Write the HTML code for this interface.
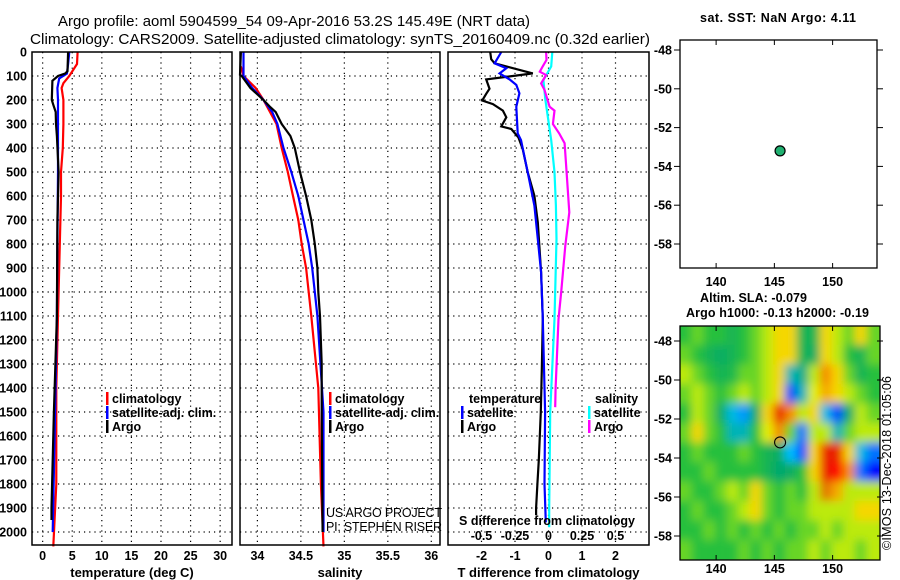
<!DOCTYPE html>
<html><head><meta charset="utf-8"><style>
html,body{margin:0;padding:0;background:#fff;}
svg{display:block;font-family:"Liberation Sans",sans-serif;}
</style></head><body>
<svg id="c" width="900" height="580" viewBox="0 0 900 580">
<defs>
<clipPath id="clipMap2"><rect x="680" y="326" width="200" height="234"/></clipPath>
<filter id="blur" x="-5%" y="-5%" width="110%" height="110%"><feGaussianBlur stdDeviation="4.5"/></filter>
</defs>
<g>
<text x="58" y="26" font-size="14.5" textLength="472" lengthAdjust="spacingAndGlyphs">Argo profile: aoml 5904599_54 09-Apr-2016 53.2S 145.49E (NRT data)</text>
<text x="30" y="44" font-size="14.5" textLength="620" lengthAdjust="spacingAndGlyphs">Climatology: CARS2009. Satellite-adjusted climatology: synTS_20160409.nc (0.32d earlier)</text>
</g>
<g id="panels"></g>
<g id="maps"></g>
</svg>
<script>
// ---------- data ----------
const depthTicks = [0,100,200,300,400,500,600,700,800,900,1000,1100,1200,1300,1400,1500,1600,1700,1800,1900,2000];
const tempTicks = [0,5,10,15,20,25,30];
const salTicks = [34,34.5,35,35.5,36];
const tdiffTicks = [-2,-1,0,1,2];
const sdiffTicks = [-0.5,-0.25,0,0.25,0.5];

const tClimDepth = [0,50,100,130,150,200,300,400,500,600,800,1100,1400,1800,2060];
const tClimVal = [5.9,5.8,4.5,3.5,3.2,3.5,3.5,3.4,3.1,3.1,2.9,2.6,2.3,2.3,1.8];
const tSatDepth = [0,50,90,110,150,200,300,400,500,800,1100,1500,2000];
const tSatVal = [4.5,4.3,4.1,2.8,2.5,2.6,2.6,2.6,2.6,2.5,2.4,2.1,1.7];
const tArgoDepth = [0,80,90,100,120,200,220,250,300,350,500,700,1100,1500,1900,1950];
const tArgoVal = [4.3,4.2,3.8,2.6,1.65,1.55,1.8,2.2,2.25,2.4,2.7,2.5,2.4,1.9,1.5,1.5];

const sClimDepth = [60,100,150,200,300,400,500,600,700,800,900,1000,1100,1400,1800,2060];
const sClimVal = [33.81,33.84,33.98,34.07,34.22,34.28,34.35,34.41,34.47,34.51,34.56,34.59,34.62,34.70,34.73,34.76];
const sSatDepth = [0,100,150,200,250,300,400,500,600,700,800,900,1000,1100,1500,2000];
const sSatVal = [33.84,33.84,33.94,34.07,34.17,34.23,34.30,34.39,34.47,34.53,34.59,34.63,34.66,34.69,34.76,34.76];
const sArgoDepth = [0,95,100,150,200,230,250,300,350,400,500,600,700,800,900,1000,1100,1300,1500,2000];
const sArgoVal = [33.81,33.80,33.82,33.92,34.07,34.15,34.21,34.28,34.38,34.43,34.49,34.56,34.62,34.66,34.69,34.70,34.72,34.74,34.74,34.75];

const dtArgoDepth = [0,30,47,89,114,153,174,202,217,244,272,310,321,356,404,501,599,710,918,1113,1325,1500,1700,1800,1900,1930];
const dtArgoVal = [-1.74,-1.71,-1.61,-0.47,-1.86,-1.76,-1.86,-1.98,-1.66,-1.36,-1.26,-1.41,-1.11,-0.90,-0.77,-0.62,-0.42,-0.32,-0.22,-0.17,-0.20,-0.23,-0.29,-0.33,-0.37,-0.37];
const dtSatDepth = [0,47,68,89,114,137,172,228,339,367,501,640,779,918,1113,1500,1800,1960];
const dtSatVal = [-1.41,-1.61,-1.26,-1.46,-1.16,-0.96,-0.87,-0.96,-0.92,-0.82,-0.62,-0.42,-0.32,-0.22,-0.17,-0.10,-0.12,-0.08];
const dsSatDepth = [0,60,117,200,367,501,640,779,1113,1500,1900,1980];
const dsSatVal = [0.028,0.02,-0.038,-0.023,0.02,0.045,0.055,0.06,0.045,0.013,0.005,0.005];
const dsArgoDepth = [0,33,60,82,96,131,158,228,244,300,339,380,501,668,807,1000,1113,1400,1480];
const dsArgoVal = [-0.018,-0.015,-0.043,-0.065,-0.018,-0.055,-0.03,0.008,0.045,0.033,0.08,0.12,0.135,0.155,0.125,0.095,0.075,0.053,0.05];

const mapLonTicks = [140,145,150];
const mapLatTicks = [-48,-50,-52,-54,-56,-58];
const argoLon = 145.49, argoLat = -53.2;
// SLA grid: rows lat -47.7 .. -58.7, cols lon 137..153
const slaGrid = [
[0,0.5,0,0,-0.5,0,0.5,1,1.5,1.5,-0.5,-0.5,1.5,1,0.5,1.5,0.5],
[0.5,0,-0.5,-0.8,-0.5,0,0.5,1,1.5,1.5,-0.5,-0.8,1.5,1,0,-0.5,0.5],
[1,0.5,0,-0.5,-0.3,0.5,0.5,1,1.5,-1.5,-1.2,1,2,1.5,0.5,-0.5,0],
[0.5,1,0.5,0,0.5,1,0.5,1,1.5,-2.6,-1.5,1.2,1.8,1.5,1,0.5,0],
[0,1,0.5,-0.8,-1.8,-2.2,-0.8,1.5,2.8,2,1,1.5,-1.8,-2.6,-0.8,1,0.5],
[0.5,1.5,0.5,0,-1.5,-1.5,0,1.2,2,0.5,-2.4,1,1,-1.5,0.5,1,1],
[0,0.5,0,0,0,0.5,0,-0.5,-0.8,-2,-2.6,1.5,2.8,2.8,1.5,-1.8,-2.4],
[0,0,0.5,0,0,0,0,-0.5,-1,-0.8,0,1.5,2.8,3.2,2,-2.4,-3.2],
[0.5,0,0,0.5,1,0.5,1.5,0.5,0,0.5,0,1,2.2,1.8,1,1,1],
[0,0.5,0,0,0.5,1,1.5,0.5,0,0.5,0.5,1,1,1,1,1.5,1.5],
[0,0,0.5,0,0.5,0,0.5,0,0.5,0,0.5,0.5,1,0.5,1,1,1],
[0.5,0,0,0,0,0.5,0,0.5,0,0.5,0.5,1,0.5,1,1,0.5,1]
];

// ---------- helpers ----------
const NS='http://www.w3.org/2000/svg';
function mk(tag, attrs, parent){const e=document.createElementNS(NS,tag);for(const k in attrs)e.setAttribute(k,attrs[k]);parent.appendChild(e);return e;}
function txt(parent,x,y,s,size,anchor,weight){const t=mk('text',{x:x,y:y,'font-size':size,'text-anchor':anchor||'start','font-weight':weight||'bold'},parent);t.textContent=s;return t;}
const yD = d => 52 + 0.24*d;
const PY0=52, PY1=545;
const panelsG=document.getElementById('panels');
const mapsG=document.getElementById('maps');

function panel(name,x0,x1,vmin,vmax,ticks,xlabel){
  const g=mk('g',{},panelsG);
  
  
  const sx=v=>x0+(v-vmin)/(vmax-vmin)*(x1-x0);
  depthTicks.forEach(d=>{ if(d>0){ const l=mk('line',{x1:x0,x2:x1,y1:yD(d),y2:yD(d),stroke:'#000','stroke-width':1.2,'stroke-dasharray':'1.2,4'},g);
    
    }});
  ticks.forEach(v=>{ const l=mk('line',{x1:sx(v),x2:sx(v),y1:PY0,y2:PY1,stroke:'#000','stroke-width':1.2,'stroke-dasharray':'1.2,4'},g);
    
    
    const t=txt(g,sx(v),560,String(v),12.5,'middle');
    
    
  });
  const xl=txt(g,(x0+x1)/2,577,xlabel,13,'middle');
  
  
  return {g,sx};
}
function series(p,name,depths,vals,color,sx){
  const pts=depths.map((d,i)=>sx(vals[i]).toFixed(1)+','+yD(d).toFixed(1)).join(' ');
  const l=mk('polyline',{points:pts,fill:'none',stroke:color,'stroke-width':2.2,'stroke-linejoin':'miter'},p.g);
  
  
}
function frame(p,x0,x1){
  const r=mk('rect',{x:x0,y:PY0,width:x1-x0,height:PY1-PY0,fill:'none',stroke:'#000','stroke-width':1.5},p.g);
  
  
}
function legendEntry(g,x,y,color,label){
  const m=mk('rect',{x:x,y:y-11,width:2.5,height:13,fill:color},g);
  
  
  const t=txt(g,x+6,y,label,12.5,'start');
  
  
}

const yax=mk('g',{},panelsG);


depthTicks.forEach(d=>{const t=txt(yax,27,yD(d)+4.5,String(d),12.5,'end');
  
  });

const p1=panel('temperature-panel',32,232,-1.8,32,tempTicks,'temperature (deg C)');
series(p1,'temp-climatology-line',tClimDepth,tClimVal,'#ff0000',p1.sx);
series(p1,'temp-satellite-line',tSatDepth,tSatVal,'#0000ff',p1.sx);
series(p1,'temp-argo-line',tArgoDepth,tArgoVal,'#000000',p1.sx);
frame(p1,32,232);
legendEntry(p1.g,106,403,'#ff0000','climatology');
legendEntry(p1.g,106,417,'#0000ff','satellite-adj. clim.');
legendEntry(p1.g,106,431,'#000000','Argo');

const p2=panel('salinity-panel',240,440,33.8,36.1,salTicks,'salinity');
series(p2,'sal-climatology-line',sClimDepth,sClimVal,'#ff0000',p2.sx);
series(p2,'sal-satellite-line',sSatDepth,sSatVal,'#0000ff',p2.sx);
series(p2,'sal-argo-line',sArgoDepth,sArgoVal,'#000000',p2.sx);
frame(p2,240,440);
legendEntry(p2.g,329,403,'#ff0000','climatology');
legendEntry(p2.g,329,417,'#0000ff','satellite-adj. clim.');
legendEntry(p2.g,329,431,'#000000','Argo');
const c1=txt(p2.g,326,517,'US ARGO PROJECT',12.5,'start','normal'); c1.setAttribute('textLength','116');


const c2=txt(p2.g,326,531,'PI: STEPHEN RISER',12.5,'start','normal'); c2.setAttribute('textLength','116');



const p3=panel('difference-panel',448,649,-3,3,tdiffTicks,'T difference from climatology');
const sxS=v=>p3.sx(v*4);
series(p3,'tdiff-argo-line',dtArgoDepth,dtArgoVal,'#000000',p3.sx);
series(p3,'tdiff-satellite-line',dtSatDepth,dtSatVal,'#0000ff',p3.sx);
series(p3,'sdiff-satellite-line',dsSatDepth,dsSatVal,'#00ffff',sxS);
series(p3,'sdiff-argo-line',dsArgoDepth,dsArgoVal,'#ff00ff',sxS);
frame(p3,448,649);
const lt=txt(p3.g,469,403,'temperature',12.5,'start');  
legendEntry(p3.g,461,417,'#0000ff','satellite');
legendEntry(p3.g,461,431,'#000000','Argo');
const ls=txt(p3.g,595,403,'salinity',12.5,'start');  
legendEntry(p3.g,588,417,'#00ffff','satellite');
legendEntry(p3.g,588,431,'#ff00ff','Argo');
const st=txt(p3.g,459,525,'S difference from climatology',12.5,'start'); st.setAttribute('textLength','176');


sdiffTicks.forEach(v=>{const t=txt(p3.g,sxS(v),540,String(v),12.5,'middle');
  
  });

// ---------- maps ----------
const lonX = lon => 680 + (lon-136.9)*11.65;
function mapAxes(g,top,bot,latY,labelY){
  mapLonTicks.forEach(lon=>{
    mk('line',{x1:lonX(lon),x2:lonX(lon),y1:bot,y2:bot-5,stroke:'#000'},g);
    mk('line',{x1:lonX(lon),x2:lonX(lon),y1:top,y2:top+5,stroke:'#000'},g);
    const t=txt(g,lonX(lon),labelY,String(lon),12.5,'middle');
    
    
  });
  mapLatTicks.forEach(lat=>{
    mk('line',{x1:674,x2:680,y1:latY(lat),y2:latY(lat),stroke:'#000'},g);
    mk('line',{x1:877,x2:883,y1:latY(lat),y2:latY(lat),stroke:'#000'},g);
    const t=txt(g,672,latY(lat)+4.5,String(lat),12.5,'end');
    
    
  });
}
const m1=mk('g',{},mapsG);


const lat1 = lat => 50 + (-48-lat)*19.4;
const m1t=txt(m1,700,22,'sat. SST: NaN Argo: 4.11',12.5,'start'); m1t.setAttribute('textLength','156');


mk('rect',{x:680,y:40,width:197,height:228,fill:'#fff',stroke:'#000','stroke-width':1.3},m1);
mapAxes(m1,40,268,lat1,286);
const dot=mk('circle',{cx:lonX(argoLon),cy:lat1(argoLat),r:5,fill:'#20b070',stroke:'#000','stroke-width':1.2},m1);



const m2=mk('g',{},mapsG);


const lat2 = lat => 341 + (-48-lat)*19.5;
const m2t1=txt(m2,700,302,'Altim. SLA: -0.079',12.5,'start'); m2t1.setAttribute('textLength','107');


const m2t2=txt(m2,686,317,'Argo h1000: -0.13 h2000: -0.19',12.5,'start'); m2t2.setAttribute('textLength','183');


const stops=[[-3,[0,0,255]],[-2,[0,190,255]],[-1,[0,168,110]],[0,[40,192,60]],[0.7,[130,222,30]],[1.3,[245,245,0]],[2,[245,140,0]],[2.5,[200,80,16]],[3,[255,0,0]]];
function cmap(v){
  if(v<=stops[0][0])return 'rgb('+stops[0][1]+')';
  for(let i=1;i<stops.length;i++){ if(v<=stops[i][0]){const a=stops[i-1],b=stops[i];const t=(v-a[0])/(b[0]-a[0]);
    return 'rgb('+a[1].map((c,k)=>Math.round(c+(b[1][k]-c)*t)).join(',')+')';}}
  return 'rgb('+stops[stops.length-1][1]+')';
}
const hmClip=mk('g',{'clip-path':'url(#clipMap2)'},m2);
mk('rect',{x:680,y:326,width:200,height:234,fill:cmap(0.3)},hmClip);
const hm=mk('g',{filter:'url(#blur)'},hmClip);


slaGrid.forEach((row,r)=>row.forEach((v,c)=>{
  const x=lonX(137+c-0.1), y=lat2(-47.2-r);
  const cell=mk('rect',{x:x-(c===0?8:0),y:y-(r===0?8:0),width:11.8+(c===0||c===16?8:0),height:19.7+(r===0||r===11?8:0),fill:cmap(v)},hm);
  
  
}));
mk('rect',{x:680,y:326,width:200,height:234,fill:'none',stroke:'#000','stroke-width':1.3},m2);
mapAxes(m2,326,560,lat2,573);
const dot2=mk('circle',{cx:lonX(argoLon),cy:lat2(argoLat),r:5.5,fill:'none',stroke:'#000','stroke-width':1.1},m2);


const cr=mk('text',{x:0,y:0,'font-size':12.5,transform:'translate(891,550) rotate(-90)',textLength:174},m2);
cr.textContent='©IMOS 13-Dec-2018 01:05:06';


</script>
</body></html>
